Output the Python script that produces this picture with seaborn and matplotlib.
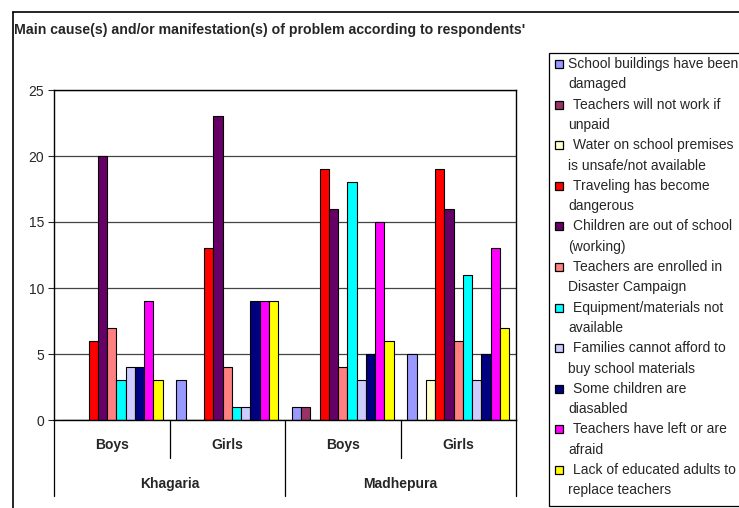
import numpy as np
import pandas as pd
import matplotlib
matplotlib.use("Agg")
import matplotlib.pyplot as plt
import matplotlib.patches as mpatches
import seaborn as sns

sns.set_style("white")
plt.rcParams["font.family"] = ["Liberation Sans", "DejaVu Sans"]

# data
districts = ["Khagaria", "Madhepura"]
genders = ["Boys", "Girls"]
causes = [
    "School buildings have been\ndamaged",
    "Teachers will not work if\nunpaid",
    "Water on school premises\nis unsafe/not available",
    "Traveling has become\ndangerous",
    "Children are out of school\n(working)",
    "Teachers are enrolled in\nDisaster Campaign",
    "Equipment/materials not\navailable",
    "Families cannot afford to\nbuy school materials",
    "Some children are\ndiasabled",
    "Teachers have left or are\nafraid",
    "Lack of educated adults to\nreplace teachers",
]
colors = ["#9999FF", "#993366", "#FFFFCC", "#FF0000", "#660066", "#FF8080",
          "#00FFFF", "#CCCCFF", "#000080", "#FF00FF", "#FFFF00"]

khagaria_boys = [0, 0, 0, 6, 20, 7, 3, 4, 4, 9, 3]
khagaria_girls = [3, 0, 0, 13, 23, 4, 1, 1, 9, 9, 9]
madhepura_boys = [1, 1, 0, 19, 16, 4, 18, 3, 5, 15, 6]
madhepura_girls = [5, 0, 3, 19, 16, 6, 11, 3, 5, 13, 7]

groups = [(d, g) for d in districts for g in genders]
values = [khagaria_boys, khagaria_girls, madhepura_boys, madhepura_girls]

rows = []
for (d, g), vals in zip(groups, values):
    for c, v in zip(causes, vals):
        rows.append({"group": d + " " + g, "cause": c, "value": v})
df = pd.DataFrame(rows)
group_order = [d + " " + g for d, g in groups]

W, H = 739, 508
fig = plt.figure(figsize=(W / 100, H / 100), dpi=100)
ax = fig.add_axes([54 / W, 1 - 420 / H, 462 / W, 330 / H])

sns.barplot(data=df, x="group", y="value", hue="cause", order=group_order,
            hue_order=causes, palette=colors, saturation=1, width=0.88,
            edgecolor="black", linewidth=0.8, legend=False, ax=ax)

ax.set_ylim(0, 25)
ax.set_xlim(-0.5, len(group_order) - 0.5)
ax.set_yticks(range(0, 26, 5))
ax.yaxis.grid(True, color="#444444", linewidth=0.9)
ax.set_axisbelow(True)
for s in ax.spines.values():
    s.set_visible(True)
    s.set_color("black")
    s.set_linewidth(1.0)
ax.tick_params(axis="y", left=True, length=4, width=0.8, labelsize=10, pad=3)
ax.set_xticks([])
ax.set_xlabel("")
ax.set_ylabel("")

# two-level category axis
tr = ax.get_xaxis_transform()
edges = np.arange(len(group_order) + 1) - 0.5
for i, e in enumerate(edges):
    bottom = -0.23 if i % 2 == 0 else -0.115
    ax.plot([e, e], [0, bottom], color="black", lw=0.9, transform=tr, clip_on=False)
for i, (d, g) in enumerate(groups):
    ax.text(i, -0.076, g, transform=tr, ha="center", va="center",
            fontsize=10, fontweight="bold")
for j, d in enumerate(districts):
    ax.text(2 * j + 0.5, -0.194, d, transform=tr, ha="center", va="center",
            fontsize=10, fontweight="bold")

# title and outer frame
fig.text(14 / W, 1 - 30 / H, "Main cause(s) and/or manifestation(s) of problem according to respondents'",
         fontsize=10.2, fontweight="bold", va="center", ha="left")
fig.add_artist(plt.Line2D([13 / W, 13 / W], [0, 1 - 12 / H], color="black", lw=1.2))
fig.add_artist(plt.Line2D([13 / W, 1], [1 - 12 / H, 1 - 12 / H], color="black", lw=1.2))

# legend (drawn by hand so the swatch sits on the first text line)
fig.add_artist(mpatches.Rectangle((549 / W, 1 - 506 / H), 200 / W, 453 / H,
                                  transform=fig.transFigure, facecolor="white",
                                  edgecolor="black", lw=0.9, clip_on=False))
for i, (c, lab) in enumerate(zip(colors, causes)):
    y0 = 64 + i * 40.6
    fig.add_artist(mpatches.Rectangle((555 / W, 1 - (y0 + 4) / H), 8 / W, 8 / H,
                                      transform=fig.transFigure, facecolor=c,
                                      edgecolor="black", lw=0.9))
    first, second = lab.split("\n")
    x0 = 568 if i == 0 else 573
    fig.text(x0 / W, 1 - y0 / H, first, fontsize=10, va="center", ha="left")
    fig.text(568 / W, 1 - (y0 + 20.3) / H, second, fontsize=10, va="center", ha="left")

fig.savefig("out.png", dpi=100)
